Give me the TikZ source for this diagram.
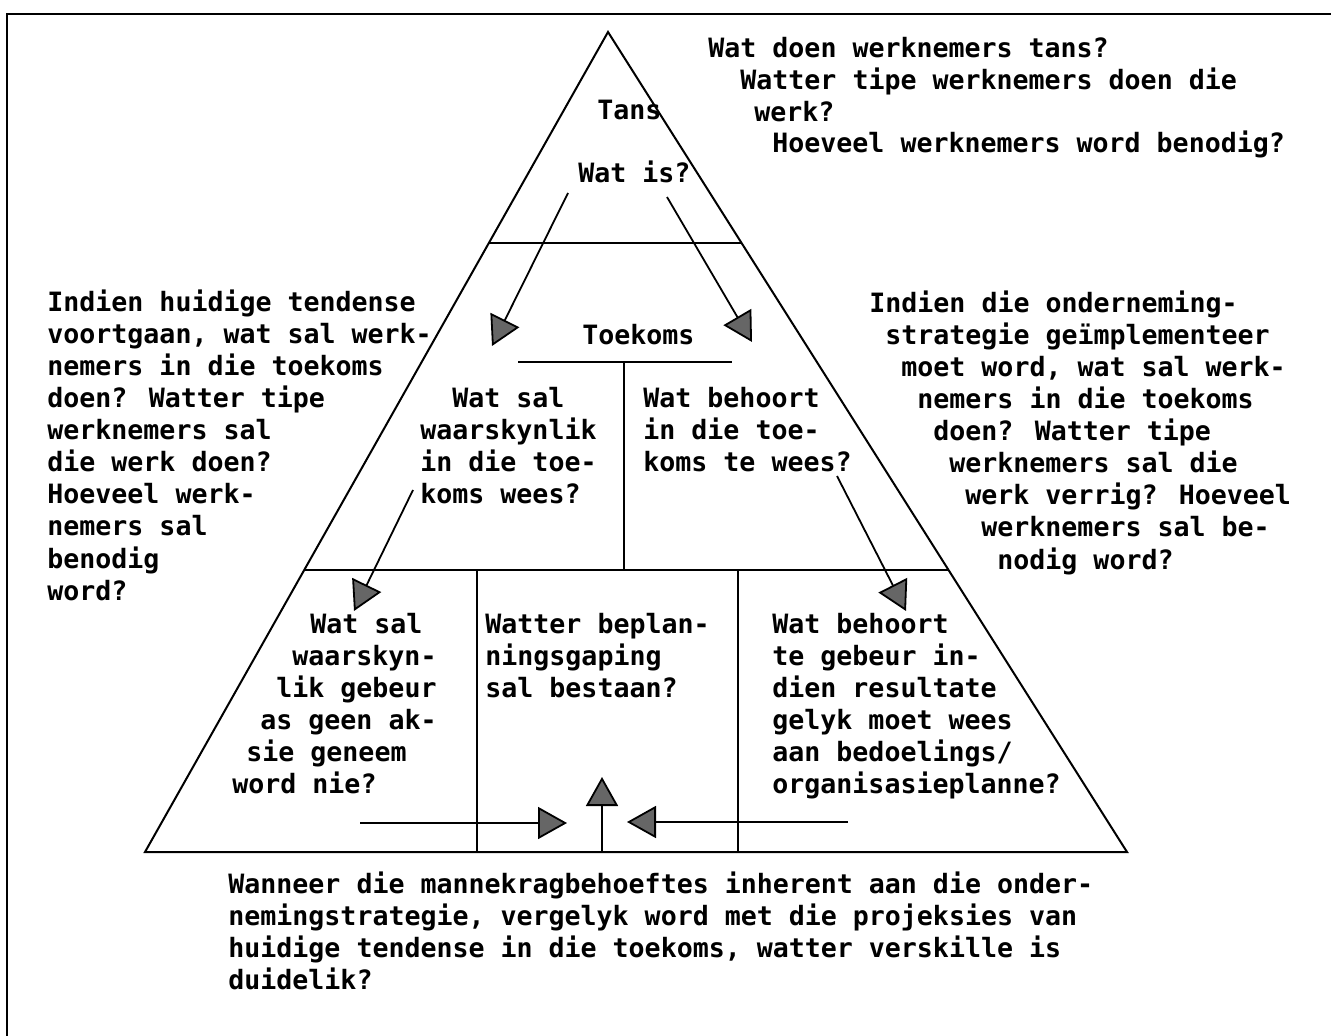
\documentclass[tikz,border=0pt]{standalone}
\usepackage{fontspec}
\usetikzlibrary{arrows.meta,calc}
\newfontfamily\monofont{DejaVu Sans Mono}
\begin{document}
\begin{tikzpicture}[x=0.5pt,y=-0.5pt,
  frame/.style={line width=1.4pt},
  edge/.style={line width=1pt},
  flow/.style={line width=0.9pt,-{Triangle[length=14.5pt,width=16pt,fill=black!60]}},
  txt/.style={anchor=base west,inner sep=0pt,font=\monofont\bfseries\fontsize{13.3pt}{16pt}\selectfont}]
\useasboundingbox (0,0) rectangle (1331,1036);

% outer frame (top and left edges)
\coordinate (fr-tl) at (7,14);
\coordinate (fr-tr) at (1331,14);
\coordinate (fr-bl) at (7,1036);
\draw[frame] (fr-tr) -- (fr-tl) -- (fr-bl);

% pyramid and its tiers
\coordinate (apex) at (608,32);
\coordinate (bl) at (145,852);
\coordinate (br) at (1127,852);
\coordinate (t1l) at ($(apex)!0.2573!(bl)$);
\coordinate (t1r) at ($(apex)!0.2573!(br)$);
\coordinate (t2l) at ($(apex)!0.6561!(bl)$);
\coordinate (t2r) at ($(apex)!0.6561!(br)$);
\draw[edge] (apex) -- (br) -- (bl) -- cycle;
\draw[edge] (t1l) -- (t1r);
\draw[edge] (t2l) -- (t2r);

% middle tier divisions
\coordinate (tk-l) at (518,362);
\coordinate (tk-r) at (732,362);
\coordinate (tk-m) at (624,362);
\coordinate (tk-b) at (624,570);
\draw[edge] (tk-l) -- (tk-r);
\draw[edge] (tk-m) -- (tk-b);

% bottom tier divisions
\coordinate (v1t) at (477,570);
\coordinate (v1b) at (477,852);
\coordinate (v2t) at (738,570);
\coordinate (v2b) at (738,852);
\draw[edge] (v1t) -- (v1b);
\draw[edge] (v2t) -- (v2b);

% flow arrows
\coordinate (a1s) at (568,193); \coordinate (a1e) at (492,346);
\coordinate (a2s) at (667,197); \coordinate (a2e) at (752,342);
\coordinate (a3s) at (413,490); \coordinate (a3e) at (354,611);
\coordinate (a4s) at (837,476); \coordinate (a4e) at (906,611);
\coordinate (a5s) at (360,823); \coordinate (a5e) at (567,823);
\coordinate (a6s) at (848,822); \coordinate (a6e) at (627,822);
\coordinate (a7s) at (602,852); \coordinate (a7e) at (602,777);
\draw[flow] (a1s) -- (a1e);
\draw[flow] (a2s) -- (a2e);
\draw[flow] (a3s) -- (a3e);
\draw[flow] (a4s) -- (a4e);
\draw[flow] (a5s) -- (a5e);
\draw[flow] (a6s) -- (a6e);
\draw[flow] (a7s) -- (a7e);

% top questions
\node[txt] (q1) at (708,58) {Wat doen werknemers tans?};
\node[txt] (q2) at (740,90) {Watter tipe werknemers doen die};
\node[txt] (q3) at (754,122) {werk?};
\node[txt] (q4) at (772,153) {Hoeveel werknemers word benodig?};

% apex labels
\node[txt] (tans) at (597,120) {Tans};
\node[txt] (watis) at (578,183) {Wat is?};
\node[txt] (toekoms) at (582,345) {Toekoms};

% left column
\node[txt] (l1) at (47,312) {Indien huidige tendense};
\node[txt] (l2) at (47,344) {voortgaan, wat sal werk-};
\node[txt] (l3) at (47,376) {nemers in die toekoms};
\node[txt] (l4) at (47,408) {doen? Watter tipe};
\node[txt] (l5) at (47,440) {werknemers sal};
\node[txt] (l6) at (47,472) {die werk doen?};
\node[txt] (l7) at (47,504) {Hoeveel werk-};
\node[txt] (l8) at (47,536) {nemers sal};
\node[txt] (l9) at (47,568) {benodig};
\node[txt] (l10) at (47,600) {word?};

% right column
\node[txt] (r1) at (869,313) {Indien die onderneming-};
\node[txt] (r2) at (885,345) {strategie geïmplementeer};
\node[txt] (r3) at (901,377) {moet word, wat sal werk-};
\node[txt] (r4) at (917,409) {nemers in die toekoms};
\node[txt] (r5) at (933,441) {doen? Watter tipe};
\node[txt] (r6) at (949,473) {werknemers sal die};
\node[txt] (r7) at (965,505) {werk verrig? Hoeveel};
\node[txt] (r8) at (981,537) {werknemers sal be-};
\node[txt] (r9) at (997,569) {nodig word?};

% middle tier cells
\node[txt] (ml1) at (452,408) {Wat sal};
\node[txt] (ml2) at (420,440) {waarskynlik};
\node[txt] (ml3) at (420,472) {in die toe-};
\node[txt] (ml4) at (420,504) {koms wees?};
\node[txt] (mr1) at (643,408) {Wat behoort};
\node[txt] (mr2) at (643,440) {in die toe-};
\node[txt] (mr3) at (643,472) {koms te wees?};

% bottom tier cells
\node[txt] (bl1) at (310,633) {Wat sal};
\node[txt] (bl2) at (292,665) {waarskyn-};
\node[txt] (bl3) at (276,697) {lik gebeur};
\node[txt] (bl4) at (260,729) {as geen ak-};
\node[txt] (bl5) at (246,761) {sie geneem};
\node[txt] (bl6) at (232,793) {word nie?};
\node[txt] (bm1) at (485,633) {Watter beplan-};
\node[txt] (bm2) at (485,665) {ningsgaping};
\node[txt] (bm3) at (485,697) {sal bestaan?};
\node[txt] (br1) at (772,633) {Wat behoort};
\node[txt] (br2) at (772,665) {te gebeur in-};
\node[txt] (br3) at (772,697) {dien resultate};
\node[txt] (br4) at (772,729) {gelyk moet wees};
\node[txt] (br5) at (772,761) {aan bedoelings/};
\node[txt] (br6) at (772,793) {organisasieplanne?};

% closing question
\node[txt] (c1) at (228,893) {Wanneer die mannekragbehoeftes inherent aan die onder-};
\node[txt] (c2) at (228,925) {nemingstrategie, vergelyk word met die projeksies van};
\node[txt] (c3) at (228,957) {huidige tendense in die toekoms, watter verskille is};
\node[txt] (c4) at (228,989) {duidelik?};
\end{tikzpicture}
\end{document}
